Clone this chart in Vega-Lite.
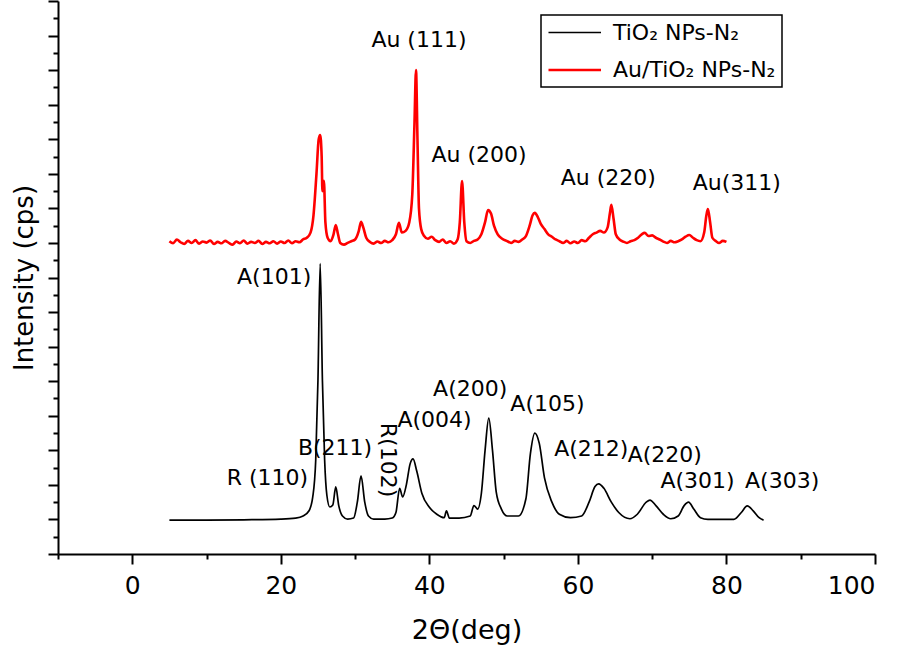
{
  "$schema": "https://vega.github.io/schema/vega-lite/v6.json",
  "width": 817,
  "height": 553,
  "autosize": {"type": "none"},
  "padding": {"left": 58, "top": 1, "right": 23, "bottom": 97},
  "config": {
    "view": {"stroke": null},
    "font": "DejaVu Sans",
    "axis": {"domainColor": "black", "tickColor": "black", "domainWidth": 2, "tickWidth": 2, "labelColor": "black", "titleColor": "black", "grid": false, "labelFont": "DejaVu Sans", "titleFont": "DejaVu Sans", "titleFontWeight": "normal"},
    "legend": {"strokeColor": "black", "strokeWidth": 1.5, "padding": 6, "fillColor": "white"}
  },
  "datasets": {
    "xrd": [
      {"s":"T","x":5,"y":98},{"s":"T","x":10,"y":98},{"s":"T","x":15,"y":99},{"s":"T","x":20,"y":101},{"s":"T","x":22,"y":104},{"s":"T","x":23,"y":110},{"s":"T","x":23.8,"y":125},{"s":"T","x":24.3,"y":165},{"s":"T","x":24.7,"y":272},{"s":"T","x":25.0,"y":503},{"s":"T","x":25.3,"y":840},{"s":"T","x":25.6,"y":503},{"s":"T","x":25.9,"y":272},{"s":"T","x":26.2,"y":170},{"s":"T","x":26.6,"y":136},{"s":"T","x":27.0,"y":142},{"s":"T","x":27.4,"y":194},{"s":"T","x":27.8,"y":140},{"s":"T","x":28.3,"y":110},{"s":"T","x":29,"y":101},{"s":"T","x":29.8,"y":104},{"s":"T","x":30.3,"y":150},{"s":"T","x":30.8,"y":226},{"s":"T","x":31.3,"y":150},{"s":"T","x":31.8,"y":110},{"s":"T","x":32.5,"y":101},{"s":"T","x":34,"y":101},{"s":"T","x":35,"y":104},{"s":"T","x":35.5,"y":120},{"s":"T","x":36.0,"y":190},{"s":"T","x":36.4,"y":165},{"s":"T","x":36.9,"y":200},{"s":"T","x":37.4,"y":260},{"s":"T","x":37.8,"y":275},{"s":"T","x":38.3,"y":240},{"s":"T","x":39,"y":175},{"s":"T","x":40,"y":135},{"s":"T","x":41,"y":115},{"s":"T","x":42,"y":105},{"s":"T","x":42.3,"y":125},{"s":"T","x":42.7,"y":104},{"s":"T","x":44,"y":104},{"s":"T","x":45.5,"y":110},{"s":"T","x":46,"y":140},{"s":"T","x":46.5,"y":130},{"s":"T","x":47,"y":175},{"s":"T","x":47.5,"y":300},{"s":"T","x":48.0,"y":393},{"s":"T","x":48.5,"y":300},{"s":"T","x":49.0,"y":180},{"s":"T","x":49.7,"y":130},{"s":"T","x":50.5,"y":110},{"s":"T","x":52,"y":110},{"s":"T","x":53,"y":160},{"s":"T","x":53.6,"y":290},{"s":"T","x":54.2,"y":350},{"s":"T","x":54.8,"y":320},{"s":"T","x":55.5,"y":220},{"s":"T","x":56.5,"y":150},{"s":"T","x":57.5,"y":115},{"s":"T","x":59,"y":105},{"s":"T","x":60.5,"y":110},{"s":"T","x":61.5,"y":150},{"s":"T","x":62.3,"y":195},{"s":"T","x":62.8,"y":203},{"s":"T","x":63.5,"y":190},{"s":"T","x":64.5,"y":150},{"s":"T","x":65.5,"y":120},{"s":"T","x":67,"y":102},{"s":"T","x":68,"y":115},{"s":"T","x":69.2,"y":150},{"s":"T","x":69.7,"y":156},{"s":"T","x":70.5,"y":140},{"s":"T","x":71.5,"y":115},{"s":"T","x":72.5,"y":102},{"s":"T","x":73.5,"y":110},{"s":"T","x":74.3,"y":140},{"s":"T","x":74.9,"y":150},{"s":"T","x":75.6,"y":130},{"s":"T","x":76.5,"y":105},{"s":"T","x":77.5,"y":100},{"s":"T","x":81,"y":100},{"s":"T","x":82,"y":120},{"s":"T","x":82.8,"y":139},{"s":"T","x":83.6,"y":125},{"s":"T","x":84.4,"y":105},{"s":"T","x":85,"y":98},
      {"s":"A","x":5,"y":905},{"s":"A","x":5.5,"y":899},{"s":"A","x":6,"y":910},{"s":"A","x":6.5,"y":902},{"s":"A","x":7,"y":897},{"s":"A","x":7.5,"y":906},{"s":"A","x":8,"y":900},{"s":"A","x":8.5,"y":908},{"s":"A","x":9,"y":898},{"s":"A","x":9.5,"y":904},{"s":"A","x":10,"y":901},{"s":"A","x":10.5,"y":907},{"s":"A","x":11,"y":897},{"s":"A","x":11.5,"y":903},{"s":"A","x":12,"y":899},{"s":"A","x":12.5,"y":906},{"s":"A","x":13,"y":900},{"s":"A","x":13.5,"y":895},{"s":"A","x":14,"y":904},{"s":"A","x":14.5,"y":899},{"s":"A","x":15,"y":907},{"s":"A","x":15.5,"y":898},{"s":"A","x":16,"y":903},{"s":"A","x":16.5,"y":900},{"s":"A","x":17,"y":906},{"s":"A","x":17.5,"y":897},{"s":"A","x":18,"y":903},{"s":"A","x":18.5,"y":899},{"s":"A","x":19,"y":905},{"s":"A","x":19.5,"y":898},{"s":"A","x":20,"y":904},{"s":"A","x":20.5,"y":900},{"s":"A","x":21,"y":907},{"s":"A","x":21.5,"y":899},{"s":"A","x":22,"y":905},{"s":"A","x":22.5,"y":902},{"s":"A","x":23,"y":910},{"s":"A","x":23.5,"y":915},{"s":"A","x":24,"y":930},{"s":"A","x":24.4,"y":980},{"s":"A","x":24.8,"y":1100},{"s":"A","x":25.1,"y":1200},{"s":"A","x":25.3,"y":1212},{"s":"A","x":25.5,"y":1150},{"s":"A","x":25.6,"y":1050},{"s":"A","x":25.8,"y":1080},{"s":"A","x":26.0,"y":960},{"s":"A","x":26.3,"y":915},{"s":"A","x":26.7,"y":905},{"s":"A","x":27.1,"y":925},{"s":"A","x":27.4,"y":952},{"s":"A","x":27.7,"y":925},{"s":"A","x":28.0,"y":900},{"s":"A","x":28.5,"y":895},{"s":"A","x":29,"y":900},{"s":"A","x":29.5,"y":905},{"s":"A","x":30.0,"y":910},{"s":"A","x":30.5,"y":935},{"s":"A","x":30.8,"y":961},{"s":"A","x":31.1,"y":945},{"s":"A","x":31.5,"y":915},{"s":"A","x":32,"y":903},{"s":"A","x":32.5,"y":898},{"s":"A","x":33,"y":904},{"s":"A","x":33.5,"y":900},{"s":"A","x":34,"y":906},{"s":"A","x":34.5,"y":902},{"s":"A","x":35,"y":908},{"s":"A","x":35.5,"y":925},{"s":"A","x":35.9,"y":958},{"s":"A","x":36.3,"y":930},{"s":"A","x":36.8,"y":935},{"s":"A","x":37.3,"y":960},{"s":"A","x":37.7,"y":1040},{"s":"A","x":38.0,"y":1250},{"s":"A","x":38.2,"y":1400},{"s":"A","x":38.4,"y":1200},{"s":"A","x":38.6,"y":1000},{"s":"A","x":38.9,"y":940},{"s":"A","x":39.3,"y":920},{"s":"A","x":39.8,"y":912},{"s":"A","x":40.3,"y":918},{"s":"A","x":40.8,"y":908},{"s":"A","x":41.3,"y":903},{"s":"A","x":41.8,"y":910},{"s":"A","x":42.3,"y":900},{"s":"A","x":42.8,"y":905},{"s":"A","x":43.3,"y":898},{"s":"A","x":43.8,"y":910},{"s":"A","x":44.1,"y":960},{"s":"A","x":44.4,"y":1079},{"s":"A","x":44.7,"y":960},{"s":"A","x":45.0,"y":905},{"s":"A","x":45.5,"y":900},{"s":"A","x":46,"y":906},{"s":"A","x":46.5,"y":910},{"s":"A","x":47,"y":925},{"s":"A","x":47.5,"y":960},{"s":"A","x":47.9,"y":995},{"s":"A","x":48.3,"y":985},{"s":"A","x":48.7,"y":950},{"s":"A","x":49.2,"y":925},{"s":"A","x":49.8,"y":912},{"s":"A","x":50.5,"y":905},{"s":"A","x":51,"y":900},{"s":"A","x":51.5,"y":906},{"s":"A","x":52,"y":903},{"s":"A","x":52.5,"y":910},{"s":"A","x":53,"y":920},{"s":"A","x":53.5,"y":950},{"s":"A","x":53.9,"y":980},{"s":"A","x":54.2,"y":987},{"s":"A","x":54.6,"y":975},{"s":"A","x":55,"y":955},{"s":"A","x":55.5,"y":940},{"s":"A","x":56,"y":925},{"s":"A","x":56.5,"y":918},{"s":"A","x":57,"y":910},{"s":"A","x":57.5,"y":905},{"s":"A","x":58,"y":900},{"s":"A","x":58.5,"y":906},{"s":"A","x":59,"y":899},{"s":"A","x":59.5,"y":904},{"s":"A","x":60,"y":900},{"s":"A","x":60.5,"y":908},{"s":"A","x":61,"y":905},{"s":"A","x":61.5,"y":915},{"s":"A","x":62,"y":925},{"s":"A","x":62.5,"y":930},{"s":"A","x":63,"y":935},{"s":"A","x":63.5,"y":930},{"s":"A","x":64,"y":945},{"s":"A","x":64.3,"y":985},{"s":"A","x":64.5,"y":1010},{"s":"A","x":64.8,"y":970},{"s":"A","x":65.1,"y":925},{"s":"A","x":65.6,"y":910},{"s":"A","x":66.1,"y":904},{"s":"A","x":66.6,"y":900},{"s":"A","x":67.1,"y":905},{"s":"A","x":67.6,"y":908},{"s":"A","x":68.1,"y":915},{"s":"A","x":68.6,"y":925},{"s":"A","x":69.0,"y":929},{"s":"A","x":69.5,"y":920},{"s":"A","x":70,"y":922},{"s":"A","x":70.5,"y":915},{"s":"A","x":71,"y":910},{"s":"A","x":71.5,"y":904},{"s":"A","x":72,"y":900},{"s":"A","x":72.5,"y":906},{"s":"A","x":73,"y":902},{"s":"A","x":73.5,"y":905},{"s":"A","x":74,"y":910},{"s":"A","x":74.5,"y":918},{"s":"A","x":75,"y":923},{"s":"A","x":75.5,"y":915},{"s":"A","x":76,"y":908},{"s":"A","x":76.5,"y":905},{"s":"A","x":77,"y":930},{"s":"A","x":77.3,"y":980},{"s":"A","x":77.5,"y":998},{"s":"A","x":77.8,"y":960},{"s":"A","x":78.1,"y":915},{"s":"A","x":78.6,"y":905},{"s":"A","x":79,"y":900},{"s":"A","x":79.5,"y":906},{"s":"A","x":80,"y":903}
    ],
    "labels": [
      {"x":38.6,"y":1487,"t":"Au (111)","a":0},
      {"x":46.7,"y":1154,"t":"Au (200)","a":0},
      {"x":64.1,"y":1088,"t":"Au (220)","a":0},
      {"x":81.4,"y":1073,"t":"Au(311)","a":0},
      {"x":19.1,"y":801,"t":"A(101)","a":0},
      {"x":18.2,"y":220,"t":"R (110)","a":0},
      {"x":27.3,"y":307,"t":"B(211)","a":0},
      {"x":34.4,"y":272,"t":"R(102)","a":90},
      {"x":40.7,"y":388,"t":"A(004)","a":0},
      {"x":45.5,"y":477,"t":"A(200)","a":0},
      {"x":55.9,"y":434,"t":"A(105)","a":0},
      {"x":61.8,"y":303,"t":"A(212)","a":0},
      {"x":71.7,"y":286,"t":"A(220)","a":0},
      {"x":76.1,"y":211,"t":"A(301)","a":0},
      {"x":87.5,"y":211,"t":"A(303)","a":0}
    ]
  },
  "layer": [
    {
      "data": {"name": "xrd"},
      "mark": {"type": "line", "interpolate": "monotone"},
      "encoding": {
        "x": {"field": "x", "type": "quantitative", "scale": {"domain": [-10, 100], "nice": false, "zero": false},
          "axis": {"orient": "bottom", "values": [0, 20, 40, 60, 80, 100], "tickSize": 10, "labelFontSize": 25, "labelPadding": 9, "title": "2Θ(deg)", "titleFontSize": 27, "titlePadding": 19}},
        "y": {"field": "y", "type": "quantitative", "scale": {"domain": [0, 1600], "nice": false, "zero": false},
          "axis": {"orient": "left", "values": [0,100,200,300,400,500,600,700,800,900,1000,1100,1200,1300,1400,1500,1600], "tickSize": 10, "labels": false, "title": "Intensity (cps)", "titleFontSize": 26, "titlePadding": 10}},
        "color": {"field": "s", "type": "nominal", "scale": {"domain": ["T", "A"], "range": ["#000000", "#ff0000"]},
          "legend": {"title": null, "orient": "none", "legendX": 483, "legendY": 14, "labelFontSize": 22, "labelFont": "DejaVu Sans", "labelLimit": 400, "symbolType": "M-1,0H4", "symbolSize": 441, "symbolStrokeWidth": 2, "labelOffset": 42, "rowPadding": 14,
            "labelExpr": "datum.label == 'T' ? 'TiO₂ NPs-N₂' : 'Au/TiO₂ NPs-N₂'"}},
        "strokeWidth": {"field": "s", "type": "nominal", "scale": {"domain": ["T", "A"], "range": [1.7, 2.6]}, "legend": null}
      }
    },
    {
      "data": {"name": "labels"},
      "mark": {"type": "text", "fontSize": 22, "font": "DejaVu Sans", "color": "black", "baseline": "middle", "align": "center"},
      "encoding": {
        "x": {"field": "x", "type": "quantitative", "scale": {"domain": [-10, 100], "nice": false, "zero": false},
          "axis": {"orient": "bottom", "values": [-10, 10, 30, 50, 70, 90], "tickSize": 5, "labels": false, "domain": false, "title": null}},
        "y": {"field": "y", "type": "quantitative", "scale": {"domain": [0, 1600], "nice": false, "zero": false},
          "axis": {"orient": "left", "values": [50,150,250,350,450,550,650,750,850,950,1050,1150,1250,1350,1450,1550], "tickSize": 5, "labels": false, "domain": false, "title": null}},
        "text": {"field": "t"},
        "angle": {"field": "a", "type": "quantitative", "scale": null}
      }
    }
  ],
  "resolve": {"scale": {"x": "independent", "y": "independent"}}
}
